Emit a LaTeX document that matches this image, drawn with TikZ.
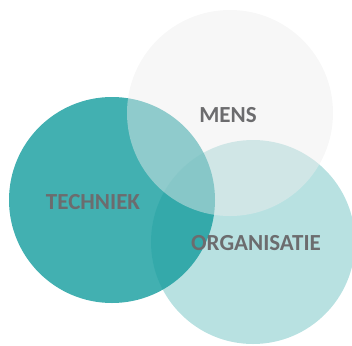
\documentclass[tikz,border=0pt]{standalone}
\usepackage{fontspec}
\setmainfont{Carlito}
\usepackage{tikz}
\definecolor{tealbase}{RGB}{66,176,177}
\definecolor{tealdark}{RGB}{20,156,157}
\definecolor{labelgray}{RGB}{108,108,110}

\begin{document}
\begin{tikzpicture}[x=1pt,y=-1pt,
		bol/.style={circle, inner sep=0pt, minimum size=206pt},
		lbl/.style={text=labelgray, font=\fontsize{23}{23}\selectfont\bfseries}]
			\useasboundingbox (0,0) rectangle (352,345);
			%%%%%%%%%%%%%%%%%%%%%%%%%%%%%%%%
			\node[bol, fill=tealbase] (techniek) at (112,200){};
			\node[bol, fill=tealdark, fill opacity=0.3, minimum size=204pt] (organisatie) at (253,242){};
			\node[bol, fill=white!93!black, fill opacity=0.45] (mens) at (230,113){};
			%%%%%%%%%%%%%%%%%%%%%%%%%%%%%
			\node[lbl] (tlabel) at (93,202){TECHNIEK};
			\node[lbl] (mlabel) at (228,115){MENS};
			\node[lbl] (olabel) at (256,243){ORGANISATIE};
		\end{tikzpicture}
\end{document}
